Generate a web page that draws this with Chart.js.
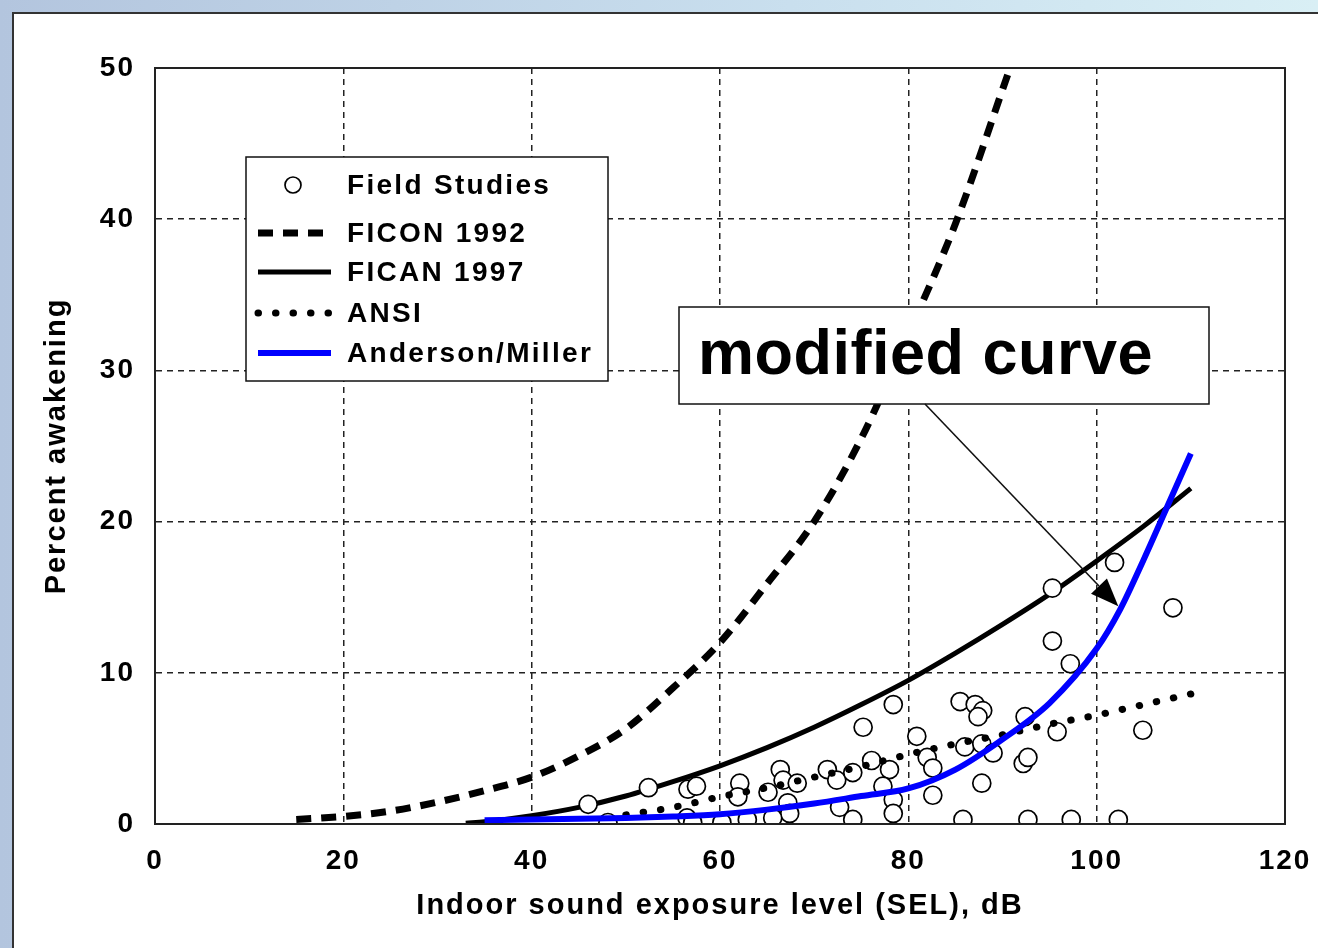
<!DOCTYPE html>
<html>
<head>
<meta charset="utf-8">
<script src="https://cdn.jsdelivr.net/npm/chart.js@4.4.1/dist/chart.umd.min.js"></script>
<style>
  html, body { margin: 0; padding: 0; width: 1318px; height: 948px; overflow: hidden; }
  body { background: linear-gradient(to right, #b3c5de, #c9dfee 60%, #d9eff5); position: relative; }
  #panel { position: absolute; left: 12px; top: 12px; width: 1320px; height: 950px;
           background: #fff; border-left: 2px solid #333; border-top: 2px solid #333; }
  #wrap { position: absolute; left: 0; top: 0; width: 1318px; height: 948px; }
  canvas { display: block; }
</style>
</head>
<body>
<div id="panel"></div>
<div id="wrap"><canvas id="sel-chart" width="1318" height="948"></canvas></div>
<script>
// field study observations (SEL dB, % awakening)
const fieldX = [46.0, 48.1, 52.4, 56.6, 57.5, 56.5, 57.1, 60.2, 62.1, 61.9, 62.9, 65.1, 66.4, 66.7,
  68.2, 67.2, 67.4, 65.6, 71.4, 72.4, 72.7, 74.1, 74.1, 75.2, 76.1, 78.0, 78.4, 77.3, 78.4, 78.4,
  80.9, 82.0, 82.6, 82.6, 85.5, 87.1, 87.9, 87.4, 85.8, 87.8, 86.0, 87.8, 89.0, 92.4, 92.2, 92.7,
  92.7, 95.3, 95.3, 95.8, 97.2, 97.3, 101.9, 102.3, 104.9, 108.1];
const fieldY = [1.3, 0.1, 2.4, 2.3, 2.5, 0.4, 0.1, 0.1, 2.7, 1.8, 0.3, 2.1, 3.6, 2.9,
  2.7, 1.4, 0.7, 0.4, 3.6, 2.9, 1.1, 3.4, 0.3, 6.4, 4.2, 3.6, 7.9, 2.5, 1.6, 0.7,
  5.8, 4.4, 3.7, 1.9, 8.1, 7.9, 7.5, 7.1, 0.3, 2.7, 5.1, 5.3, 4.7, 7.1, 4.0, 4.4,
  0.3, 15.6, 12.1, 6.1, 10.6, 0.3, 17.3, 0.3, 6.2, 14.3];

const ficonX = [15, 20, 25, 30, 35, 40, 45, 50, 55, 60, 65, 70, 75, 80, 85, 90.8];
const ficonY = [0.3, 0.5, 0.85, 1.45, 2.2, 3.1, 4.5, 6.3, 9.0, 12.0, 15.9, 20.0, 25.5, 32.4, 39.7, 50.0];

const ficanX = [33, 35, 40, 45, 50, 55, 60, 65, 70, 75, 80, 85, 90, 95, 100, 105, 110];
const ficanY = [0.05, 0.15, 0.55, 1.1, 1.85, 2.8, 3.85, 5.05, 6.4, 7.9, 9.5, 11.3, 13.2, 15.2, 17.4, 19.7, 22.2];

const ansiX = [50, 55, 60, 65, 70, 75, 80, 85, 90, 95, 100, 105, 110];
const ansiY = [0.6, 1.1, 1.8, 2.4, 3.1, 3.8, 4.6, 5.3, 5.9, 6.6, 7.2, 7.9, 8.6];

const amX = [35, 40, 45, 50, 55, 60, 65, 70, 75, 80, 85, 90, 95, 100, 102.5, 105, 107.5, 110];
const amY = [0.25, 0.3, 0.35, 0.4, 0.5, 0.65, 0.95, 1.35, 1.85, 2.35, 3.6, 5.6, 8.0, 11.6, 14.2, 17.5, 21.0, 24.5];

const xTicks = [0, 20, 40, 60, 80, 100, 120];
const yTicks = [0, 10, 20, 30, 40, 50];

const seriesNames = ['Field Studies', 'FICON 1992', 'FICAN 1997', 'ANSI', 'Anderson/Miller'];
const noteText = 'modified curve';
const noteTarget = [102.3, 14.4];

const toPoints = (xs, ys) => xs.map((x, i) => ({ x: x, y: ys[i] }));
const FONT = '"Liberation Sans", Arial, sans-serif';

// old-style slide text is a bit wider than canvas Arial
const spacingPlugin = {
  id: 'spacing',
  beforeDraw(chart) { chart.ctx.letterSpacing = '2px'; },
};

const framePlugin = {
  id: 'frame',
  afterDatasetsDraw(chart) {
    const { ctx, chartArea: a } = chart;
    ctx.save();
    ctx.strokeStyle = '#222';
    ctx.lineWidth = 2;
    ctx.strokeRect(a.left, a.top, a.right - a.left, a.bottom - a.top);
    ctx.restore();
  },
};

const legendBoxPlugin = {
  id: 'legendBox',
  afterDatasetsDraw(chart) {
    const { ctx } = chart;
    const ds = chart.data.datasets;
    ctx.save();
    ctx.fillStyle = '#fff';
    ctx.fillRect(246, 157, 362, 224);
    ctx.strokeStyle = '#111';
    ctx.lineWidth = 1.5;
    ctx.strokeRect(246, 157, 362, 224);

    const rows = [185, 233, 272, 313, 353];
    ctx.font = 'bold 28px ' + FONT;
    ctx.letterSpacing = '2.3px';
    ctx.textBaseline = 'middle';
    ds.forEach((d, i) => {
      const y = rows[i];
      if (d.showLine === false) {
        ctx.beginPath();
        ctx.arc(293, y, 8, 0, Math.PI * 2);
        ctx.fillStyle = '#fff';
        ctx.fill();
        ctx.lineWidth = d.borderWidth;
        ctx.strokeStyle = d.borderColor;
        ctx.stroke();
      } else {
        ctx.beginPath();
        ctx.setLineDash(d.borderDash || []);
        ctx.lineCap = d.borderCapStyle || 'butt';
        ctx.lineWidth = d.borderWidth;
        ctx.strokeStyle = d.borderColor;
        ctx.moveTo(258, y);
        ctx.lineTo(331, y);
        ctx.stroke();
        ctx.setLineDash([]);
        ctx.lineCap = 'butt';
      }
      ctx.fillStyle = '#000';
      ctx.fillText(d.label, 347, y + 1);
    });
    ctx.restore();
  },
};

const notePlugin = {
  id: 'note',
  afterDatasetsDraw(chart) {
    const { ctx, scales } = chart;
    const tx = scales.x.getPixelForValue(noteTarget[0]);
    const ty = scales.y.getPixelForValue(noteTarget[1]);
    const sx = 925, sy = 404;
    ctx.save();
    ctx.fillStyle = '#fff';
    ctx.fillRect(679, 307, 530, 97);
    ctx.strokeStyle = '#111';
    ctx.lineWidth = 1.5;
    ctx.strokeRect(679, 307, 530, 97);
    ctx.fillStyle = '#000';
    ctx.font = 'bold 63px ' + FONT;
    ctx.letterSpacing = '0.5px';
    ctx.textBaseline = 'middle';
    ctx.fillText(noteText, 698, 357);

    // arrow
    const ang = Math.atan2(ty - sy, tx - sx);
    const head = 28, half = 11;
    const bx = tx - head * Math.cos(ang), by = ty - head * Math.sin(ang);
    ctx.beginPath();
    ctx.moveTo(sx, sy);
    ctx.lineTo(bx, by);
    ctx.lineWidth = 1.6;
    ctx.stroke();
    ctx.beginPath();
    ctx.moveTo(tx, ty);
    ctx.lineTo(bx + half * Math.sin(ang), by - half * Math.cos(ang));
    ctx.lineTo(bx - half * Math.sin(ang), by + half * Math.cos(ang));
    ctx.closePath();
    ctx.fill();
    ctx.restore();
  },
};

const ctx = document.getElementById('sel-chart').getContext('2d');
// eslint-disable-next-line no-undef,no-unused-vars
const chart = new Chart(ctx, {
  type: 'scatter',
  data: {
    datasets: [
      {
        label: seriesNames[0],
        data: toPoints(fieldX, fieldY),
        showLine: false,
        pointStyle: 'circle',
        pointRadius: 9,
        pointBackgroundColor: '#fff',
        backgroundColor: '#fff',
        borderColor: '#000',
        borderWidth: 1.7,
        order: 3,
      },
      {
        label: seriesNames[1],
        data: toPoints(ficonX, ficonY),
        showLine: true,
        borderColor: '#000',
        borderWidth: 7,
        borderDash: [15, 10],
        pointRadius: 0,
        cubicInterpolationMode: 'monotone',
        order: 5,
      },
      {
        label: seriesNames[2],
        data: toPoints(ficanX, ficanY),
        showLine: true,
        borderColor: '#000',
        borderWidth: 5,
        pointRadius: 0,
        cubicInterpolationMode: 'monotone',
        order: 4,
      },
      {
        label: seriesNames[3],
        data: toPoints(ansiX, ansiY),
        showLine: true,
        borderColor: '#000',
        borderWidth: 7,
        borderDash: [0.5, 17],
        borderCapStyle: 'round',
        pointRadius: 0,
        cubicInterpolationMode: 'monotone',
        order: 2,
      },
      {
        label: seriesNames[4],
        data: toPoints(amX, amY),
        showLine: true,
        borderColor: '#0000ff',
        borderWidth: 6,
        pointRadius: 0,
        cubicInterpolationMode: 'monotone',
        order: 1,
      },
    ],
  },
  options: {
    responsive: false,
    animation: false,
    devicePixelRatio: 1,
    layout: { padding: { left: 0, top: 68, right: 33, bottom: 0 } },
    plugins: { legend: { display: false }, tooltip: { enabled: false } },
    scales: {
      x: {
        type: 'linear',
        min: 0,
        max: 120,
        afterBuildTicks: (s) => { s.ticks = xTicks.map((v) => ({ value: v })); },
        afterFit: (s) => { s.height = 124; s.paddingLeft = 0; s.paddingRight = 0; },
        ticks: { color: '#000', font: { family: FONT, size: 28, weight: 'bold' }, padding: 20 },
        grid: { color: '#222', lineWidth: 1.5, drawTicks: false },
        border: { display: true, color: '#222', width: 2, dash: [6, 5] },
        title: {
          display: true,
          text: 'Indoor sound exposure level (SEL), dB',
          color: '#000',
          font: { family: FONT, size: 29, weight: 'bold' },
          padding: { top: 10, bottom: 25 },
        },
      },
      y: {
        type: 'linear',
        min: 0,
        max: 50,
        afterBuildTicks: (s) => { s.ticks = yTicks.map((v) => ({ value: v })); },
        afterFit: (s) => { s.width = 155; s.paddingTop = 0; s.paddingBottom = 0; },
        ticks: { color: '#000', font: { family: FONT, size: 28, weight: 'bold' }, padding: 20 },
        grid: { color: '#222', lineWidth: 1.5, drawTicks: false },
        border: { display: true, color: '#222', width: 2, dash: [6, 5] },
        title: {
          display: true,
          text: 'Percent awakening',
          color: '#000',
          font: { family: FONT, size: 29, weight: 'bold' },
          padding: { top: 40, bottom: 0 },
        },
      },
    },
  },
  plugins: [spacingPlugin, framePlugin, legendBoxPlugin, notePlugin],
});
</script>
</body>
</html>
